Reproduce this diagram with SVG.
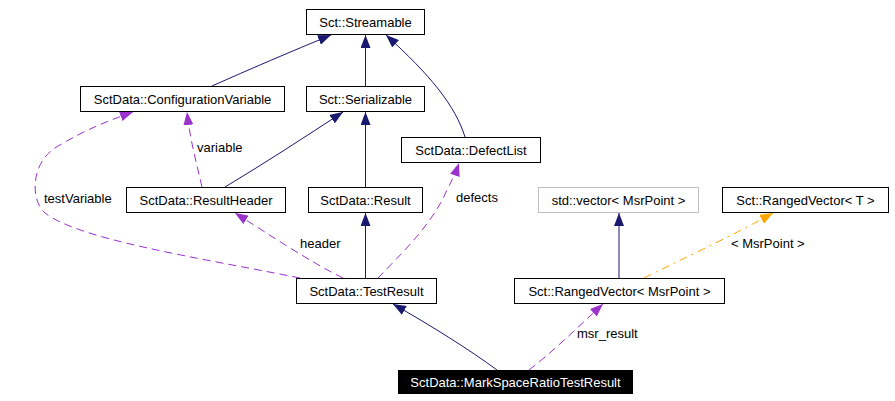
<svg xmlns="http://www.w3.org/2000/svg" width="895" height="401" viewBox="0 0 895 401">
<style>
.box{fill:#fff;stroke:#000;stroke-width:1}
.gbox{fill:#fff;stroke:#bfbfbf;stroke-width:1}
.t{font-family:"Liberation Sans",Arial,sans-serif;font-size:13px;fill:#000;text-anchor:middle}
.lbl{font-family:"Liberation Sans",Arial,sans-serif;font-size:13px;fill:#000}
.inh{fill:none;stroke:#191970;stroke-width:1;marker-end:url(#an)}
.use{fill:none;stroke:#9a32cd;stroke-width:1;stroke-dasharray:8,5;marker-end:url(#ap)}
.tpl{fill:none;stroke:#ffa500;stroke-width:1;stroke-dasharray:8,5,2,5;marker-end:url(#ao)}
</style>
<defs>
<marker id="an" markerUnits="userSpaceOnUse" markerWidth="13" markerHeight="10" refX="13" refY="5" orient="auto"><path d="M0,0 L13,5 L0,10 z" fill="#191970"/></marker>
<marker id="ap" markerUnits="userSpaceOnUse" markerWidth="13" markerHeight="10" refX="13" refY="5" orient="auto"><path d="M0,0 L13,5 L0,10 z" fill="#9a32cd"/></marker>
<marker id="ao" markerUnits="userSpaceOnUse" markerWidth="13" markerHeight="10" refX="13" refY="5" orient="auto"><path d="M0,0 L13,5 L0,10 z" fill="#ffa500"/></marker>
</defs>
<rect width="895" height="401" fill="#fff"/>
<g id="connectors">
<path class="inh" d="M212,86 C250,69 290,52 331,35"/>
<path class="inh" d="M365.5,86 L365.5,35"/>
<path class="inh" d="M465,137 C455,105 430,75 386,35"/>
<path class="inh" d="M225,187 C265,163 305,137 343,112"/>
<path class="inh" d="M365.5,187 L365.5,112"/>
<path class="inh" d="M365.5,278 L365.5,213"/>
<path class="inh" d="M497,370 C470,350 430,325 393,304"/>
<path class="inh" d="M619,278 L619,213"/>
<path class="tpl" d="M644,278 C680,260 730,237 773,213"/>
<path class="use" d="M529,370 C555,350 580,325 603,304"/>
<path class="use" d="M378,278 C400,255 432,225 447,190 C452,180 456,172 459,163"/>
<path class="use" d="M343,278 C310,262 270,235 235,213"/>
<path class="use" d="M300,278 C200,258 80,240 45,213 C30,200 30,160 60,145 C85,130 105,122 133,112"/>
<path class="use" d="M202,187 C197,165 190,140 187,112"/>
<text class="lbl" x="731" y="248">&lt; MsrPoint &gt;</text>
<text class="lbl" x="577" y="338">msr_result</text>
<text class="lbl" x="456" y="202">defects</text>
<text class="lbl" x="300" y="248">header</text>
<text class="lbl" x="44" y="203">testVariable</text>
<text class="lbl" x="197" y="152">variable</text>
</g>
<g id="n_streamable"><rect class="box" x="306.5" y="9.5" width="118" height="25"/><text class="t" x="365.5" y="26.5">Sct::Streamable</text></g>
<g id="n_configvar"><rect class="box" x="80.5" y="86.5" width="204" height="25"/><text class="t" x="182.5" y="103.5">SctData::ConfigurationVariable</text></g>
<g id="n_serializable"><rect class="box" x="306.5" y="86.5" width="118" height="25"/><text class="t" x="365.5" y="103.5">Sct::Serializable</text></g>
<g id="n_defectlist"><rect class="box" x="401.5" y="137.5" width="139" height="25"/><text class="t" x="471" y="154.5">SctData::DefectList</text></g>
<g id="n_resultheader"><rect class="box" x="126.5" y="187.5" width="159" height="25"/><text class="t" x="206" y="204.5">SctData::ResultHeader</text></g>
<g id="n_result"><rect class="box" x="308.5" y="187.5" width="114" height="25"/><text class="t" x="365.5" y="204.5">SctData::Result</text></g>
<g id="n_stdvector"><rect class="gbox" x="538.5" y="187.5" width="160" height="25"/><text class="t" x="618.5" y="204.5">std::vector&lt; MsrPoint &gt;</text></g>
<g id="n_rangedT"><rect class="box" x="722.5" y="187.5" width="166" height="25"/><text class="t" x="805.5" y="204.5">Sct::RangedVector&lt; T &gt;</text></g>
<g id="n_testresult"><rect class="box" x="296.5" y="278.5" width="140" height="25"/><text class="t" x="366.5" y="295.5">SctData::TestResult</text></g>
<g id="n_rangedMsr"><rect class="box" x="514.5" y="278.5" width="210" height="25"/><text class="t" x="619.5" y="295.5">Sct::RangedVector&lt; MsrPoint &gt;</text></g>
<g id="n_msr"><rect x="398" y="370" width="235" height="24" fill="#000"/><text class="t" x="515.5" y="386.5" style="fill:#fff">SctData::MarkSpaceRatioTestResult</text></g>
</svg>
